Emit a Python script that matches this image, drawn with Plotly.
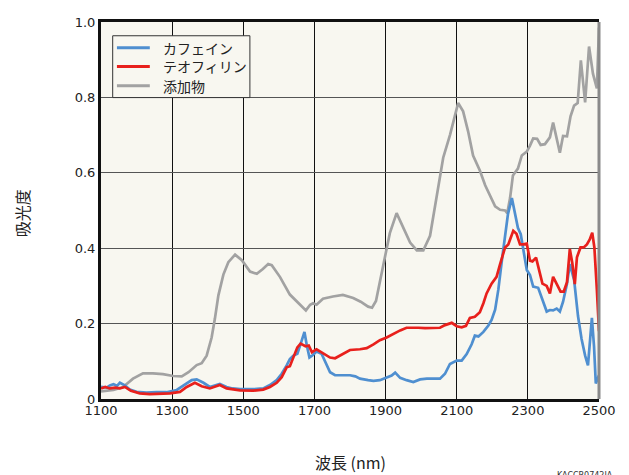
import plotly.graph_objects as go

# ---- data ----
additive_nm = [1100, 1135, 1162, 1190, 1218, 1246, 1274, 1303, 1327, 1346, 1369, 1383, 1397, 1411, 1420, 1430, 1444, 1458, 1477, 1496, 1519, 1538, 1555, 1570, 1580, 1603, 1631, 1659, 1676, 1688, 1696, 1706, 1724, 1752, 1780, 1809, 1830, 1851, 1862, 1873, 1884, 1898, 1912, 1931, 1950, 1969, 1988, 2006, 2025, 2044, 2062, 2081, 2095, 2104, 2118, 2132, 2146, 2165, 2180, 2194, 2208, 2222, 2236, 2242, 2250, 2258, 2272, 2283, 2297, 2306, 2315, 2326, 2336, 2348, 2362, 2371, 2382, 2390, 2399, 2410, 2420, 2430, 2440, 2449, 2461, 2472, 2483, 2494, 2500]
additive_abs = [0.020, 0.024, 0.032, 0.054, 0.068, 0.068, 0.066, 0.061, 0.060, 0.071, 0.090, 0.095, 0.115, 0.163, 0.212, 0.275, 0.330, 0.363, 0.383, 0.368, 0.338, 0.332, 0.345, 0.358, 0.355, 0.324, 0.277, 0.250, 0.235, 0.250, 0.254, 0.250, 0.266, 0.272, 0.276, 0.268, 0.258, 0.245, 0.242, 0.260, 0.310, 0.370, 0.440, 0.493, 0.455, 0.415, 0.394, 0.394, 0.433, 0.537, 0.640, 0.700, 0.755, 0.785, 0.763, 0.710, 0.646, 0.606, 0.567, 0.541, 0.511, 0.502, 0.500, 0.493, 0.533, 0.593, 0.611, 0.646, 0.656, 0.672, 0.691, 0.690, 0.674, 0.676, 0.694, 0.733, 0.690, 0.653, 0.698, 0.697, 0.750, 0.778, 0.785, 0.898, 0.787, 0.935, 0.863, 0.824, 0.985]

caffeine_nm = [1100, 1116, 1125, 1135, 1145, 1153, 1167, 1181, 1200, 1228, 1256, 1284, 1313, 1336, 1355, 1369, 1388, 1406, 1420, 1434, 1453, 1470, 1491, 1528, 1556, 1575, 1594, 1608, 1622, 1631, 1641, 1652, 1664, 1672, 1678, 1686, 1695, 1706, 1720, 1732, 1744, 1758, 1781, 1800, 1815, 1828, 1851, 1866, 1884, 1903, 1917, 1927, 1941, 1959, 1978, 1997, 2016, 2053, 2067, 2081, 2100, 2114, 2128, 2142, 2151, 2161, 2175, 2189, 2198, 2208, 2217, 2227, 2236, 2244, 2255, 2264, 2272, 2280, 2287, 2297, 2306, 2315, 2329, 2339, 2353, 2362, 2371, 2381, 2390, 2399, 2410, 2418, 2430, 2441, 2451, 2461, 2469, 2480, 2486, 2491, 2500]
caffeine_abs = [0.032, 0.030, 0.036, 0.039, 0.035, 0.043, 0.036, 0.025, 0.019, 0.017, 0.018, 0.018, 0.024, 0.037, 0.050, 0.052, 0.043, 0.032, 0.037, 0.040, 0.032, 0.028, 0.026, 0.026, 0.028, 0.037, 0.050, 0.067, 0.089, 0.106, 0.115, 0.120, 0.154, 0.178, 0.145, 0.110, 0.116, 0.126, 0.120, 0.093, 0.071, 0.063, 0.062, 0.063, 0.060, 0.054, 0.050, 0.048, 0.050, 0.056, 0.062, 0.070, 0.056, 0.050, 0.045, 0.052, 0.054, 0.054, 0.067, 0.093, 0.102, 0.102, 0.119, 0.145, 0.168, 0.166, 0.178, 0.195, 0.210, 0.237, 0.290, 0.368, 0.437, 0.490, 0.533, 0.489, 0.454, 0.437, 0.394, 0.342, 0.329, 0.298, 0.295, 0.270, 0.232, 0.236, 0.235, 0.240, 0.232, 0.258, 0.306, 0.358, 0.316, 0.220, 0.159, 0.115, 0.089, 0.215, 0.140, 0.041, 0.063]

theophylline_nm = [1100, 1112, 1125, 1140, 1153, 1167, 1184, 1209, 1237, 1265, 1294, 1322, 1341, 1364, 1383, 1406, 1425, 1434, 1453, 1470, 1491, 1528, 1556, 1575, 1594, 1608, 1622, 1631, 1641, 1652, 1661, 1675, 1684, 1693, 1706, 1720, 1744, 1758, 1777, 1800, 1828, 1847, 1866, 1884, 1903, 1922, 1941, 1959, 1978, 1992, 2011, 2030, 2053, 2067, 2086, 2100, 2114, 2126, 2137, 2151, 2165, 2175, 2184, 2198, 2212, 2222, 2236, 2245, 2259, 2268, 2278, 2287, 2297, 2306, 2313, 2323, 2332, 2341, 2353, 2362, 2371, 2382, 2392, 2401, 2410, 2418, 2425, 2432, 2438, 2448, 2457, 2466, 2474, 2481, 2487, 2494, 2500]
theophylline_abs = [0.028, 0.032, 0.028, 0.030, 0.028, 0.032, 0.022, 0.015, 0.013, 0.013, 0.015, 0.019, 0.032, 0.043, 0.034, 0.028, 0.034, 0.037, 0.028, 0.026, 0.023, 0.022, 0.025, 0.032, 0.043, 0.058, 0.084, 0.087, 0.110, 0.137, 0.147, 0.140, 0.142, 0.124, 0.132, 0.124, 0.110, 0.108, 0.119, 0.130, 0.132, 0.135, 0.145, 0.156, 0.163, 0.173, 0.182, 0.189, 0.190, 0.189, 0.188, 0.188, 0.189, 0.196, 0.202, 0.193, 0.190, 0.194, 0.215, 0.218, 0.230, 0.254, 0.280, 0.306, 0.324, 0.358, 0.402, 0.410, 0.446, 0.438, 0.410, 0.410, 0.412, 0.367, 0.365, 0.375, 0.341, 0.306, 0.300, 0.280, 0.324, 0.305, 0.285, 0.285, 0.310, 0.398, 0.360, 0.305, 0.376, 0.402, 0.402, 0.410, 0.423, 0.441, 0.402, 0.290, 0.180]

x_ticks = [1100, 1300, 1500, 1700, 1900, 2100, 2300, 2500]
x_tick_labels = ["1100", "1300", "1500", "1700", "1900", "2100", "2300", "2500"]
y_ticks = [0, 0.2, 0.4, 0.6, 0.8, 1.0]
y_tick_labels = ["0", "0.2", "0.4", "0.6", "0.8", "1.0"]

names = ["カフェイン", "テオフィリン", "添加物"]
colors = ["#4f8fd0", "#e8201c", "#a2a2a2"]

FONT = "DejaVu Sans, Noto Sans CJK JP, sans-serif"
JFONT = "Noto Sans CJK JP, DejaVu Sans, sans-serif"

fig = go.Figure()
fig.add_trace(go.Scatter(x=additive_nm, y=additive_abs, mode="lines", name=names[2],
                         line=dict(color=colors[2], width=2.7), showlegend=False))
fig.add_trace(go.Scatter(x=caffeine_nm, y=caffeine_abs, mode="lines", name=names[0],
                         line=dict(color=colors[0], width=2.7), showlegend=False))
fig.add_trace(go.Scatter(x=theophylline_nm, y=theophylline_abs, mode="lines", name=names[1],
                         line=dict(color=colors[1], width=2.7), showlegend=False))

# page body has an 8px margin: figure is offset by 8px, so size/margins compensate
fig.update_layout(
    width=621, height=467,
    margin=dict(l=93, r=30, t=7, b=76),
    paper_bgcolor="white",
    plot_bgcolor="#f8f7f0",
    font=dict(family=FONT, size=13, color="#222"),
    showlegend=False,
    xaxis=dict(range=[1100, 2500], tickvals=x_ticks, ticktext=x_tick_labels,
               showgrid=True, gridcolor="#111", gridwidth=1,
               showline=True, linecolor="#111", linewidth=3, mirror=True,
               ticks="", zeroline=False, tickfont=dict(size=13),
               ticklabelstandoff=-3),
    yaxis=dict(range=[0, 1.0], tickvals=y_ticks, ticktext=y_tick_labels,
               showgrid=True, gridcolor="#555", gridwidth=1,
               showline=True, linecolor="#111", linewidth=3,
               ticks="", zeroline=False, tickfont=dict(size=13)),
)

# right border (grey)
fig.add_shape(type="line", xref="paper", yref="paper", x0=1, x1=1, y0=0, y1=1,
              line=dict(color="#8a8a8a", width=3))

# legend box drawn by hand (compact row spacing as in the reference)
fig.add_shape(type="rect", xref="paper", yref="paper", x0=0.0235, x1=0.299,
              y0=0.7995, y1=0.9635, line=dict(color="#333", width=1),
              fillcolor="#f8f7f0", layer="above")
row_y = [0.932, 0.882, 0.831]
for nm_, col, yy in zip(names, colors, row_y):
    fig.add_shape(type="line", xref="paper", yref="paper", x0=0.032, x1=0.098,
                  y0=yy, y1=yy, line=dict(color=col, width=3), layer="above")
    fig.add_annotation(text=nm_, xref="paper", yref="paper", x=0.120, y=yy,
                       showarrow=False, xanchor="left", yanchor="middle",
                       font=dict(family=JFONT, size=14, color="#222"))

fig.add_annotation(text="波長 (nm)", xref="paper", yref="paper", x=0.5, y=-0.167,
                   showarrow=False, xanchor="center", yanchor="middle",
                   font=dict(family=JFONT, size=16, color="#222"))
fig.add_annotation(text="吸光度", xref="paper", yref="paper", x=-0.159, y=0.492,
                   showarrow=False, textangle=-90, xanchor="center", yanchor="middle",
                   font=dict(family=JFONT, size=16, color="#222"))
fig.add_annotation(text="KACCB0742JA", xref="paper", yref="paper", x=0.912, y=-0.185,
                   showarrow=False, xanchor="left", yanchor="top",
                   font=dict(family=FONT, size=8, color="#333"))

fig.write_html("out.html")
